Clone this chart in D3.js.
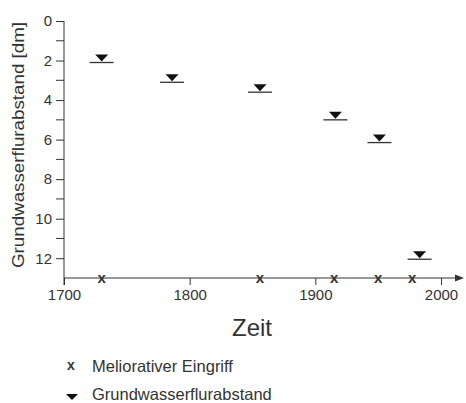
<!DOCTYPE html>
<html><head><meta charset="utf-8">
<script src="https://cdn.jsdelivr.net/npm/d3@7"></script>
<style>body{margin:0;background:#fff}svg{display:block}text{font-family:"Liberation Sans",Arial,sans-serif;fill:#333}</style>
</head><body>
<script>
const gwYears = [1730, 1786, 1856, 1916, 1951, 1983];
const gwDepth = [2.1, 3.1, 3.6, 5.0, 6.15, 12.05];
const eingriffYears = [1730, 1856, 1915, 1950, 1977];
const xTicks = [1700, 1800, 1900, 2000];
const yTicks = [0, 2, 4, 6, 8, 10, 12];
const yMinor = [1, 3, 5, 7, 9, 11];

const W = 466, H = 403;
const svg = d3.select("body").append("svg").attr("width", W).attr("height", H);
const x = d3.scaleLinear().domain([1700, 2000]).range([64, 441]);
const y = d3.scaleLinear().domain([0, 13]).range([21, 278]);
const col = "#333";

// y axis
const yAx = d3.axisLeft(y).tickValues(yTicks).tickSize(8).tickPadding(4).tickFormat(d3.format("d"));
const gy = svg.append("g").attr("transform", "translate(64,0)").call(yAx);
gy.select(".domain").remove();
gy.selectAll("line").attr("stroke", col);
gy.selectAll("text").attr("font-size", 15).style("fill", col);
svg.append("line").attr("x1", 64).attr("x2", 64).attr("y1", y(0)).attr("y2", 285).attr("stroke", col);
svg.append("g").selectAll("line").data(yMinor).join("line")
  .attr("x1", 56).attr("x2", 64).attr("y1", d => y(d)).attr("y2", d => y(d)).attr("stroke", col);

// x axis
const xAx = d3.axisBottom(x).tickValues(xTicks).tickSize(7).tickPadding(4).tickFormat(d3.format("d"));
const gx = svg.append("g").attr("transform", `translate(0,${y(13)})`).call(xAx);
gx.select(".domain").remove();
gx.selectAll("line").attr("stroke", col);
gx.selectAll("text").attr("font-size", 15).style("fill", col);
svg.append("line").attr("x1", 64).attr("x2", 456).attr("y1", y(13)).attr("y2", y(13)).attr("stroke", col);
svg.append("path").attr("d", `M464,${y(13)} L455,${y(13)-3.5} L455,${y(13)+3.5} Z`).attr("fill", col);

// axis titles
svg.append("text").attr("transform", `translate(24,145) rotate(-90)`).attr("text-anchor", "middle")
  .attr("font-size", 16).attr("textLength", 246).attr("lengthAdjust", "spacingAndGlyphs")
  .text("Grundwasserflurabstand [dm]");
svg.append("text").attr("x", 252).attr("y", 336).attr("text-anchor", "middle").attr("font-size", 24).text("Zeit");

// x marks
svg.append("g").selectAll("text").data(eingriffYears).join("text")
  .attr("x", d => x(d)).attr("y", y(13) + 5).attr("text-anchor", "middle")
  .attr("font-size", 15).attr("font-weight", "bold").text("x");

// groundwater symbols
const gw = svg.append("g").selectAll("g").data(gwYears.map((d, i) => [d, gwDepth[i]])).join("g")
  .attr("transform", d => `translate(${x(d[0])},${y(d[1])})`);
gw.append("line").attr("x1", -12).attr("x2", 12).attr("y1", 0).attr("y2", 0).attr("stroke", col).attr("stroke-width", 1.3);
gw.append("path").attr("d", "M-6.5,-8 L6.5,-8 L0,-1 Z").attr("fill", "#111");

// legend
svg.append("text").attr("x", 71).attr("y", 370).attr("text-anchor", "middle").attr("font-size", 14).attr("font-weight", "bold").text("x");
svg.append("text").attr("x", 92).attr("y", 372).attr("font-size", 16.5).text("Meliorativer Eingriff");
svg.append("path").attr("d", "M66,394 L78,394 L72,400 Z").attr("fill", "#111");
svg.append("text").attr("x", 92).attr("y", 400).attr("font-size", 16.5).text("Grundwasserflurabstand");
</script>
</body></html>
